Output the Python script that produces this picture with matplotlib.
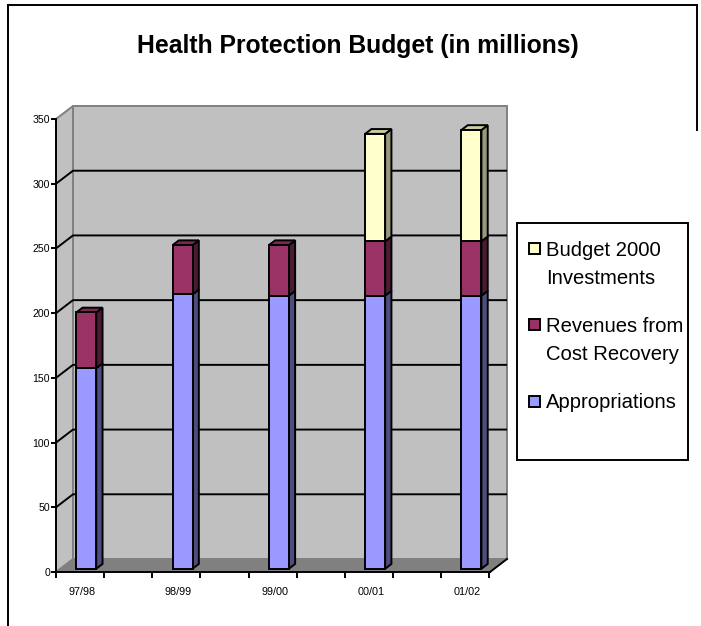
import matplotlib
matplotlib.use('Agg')
import matplotlib.pyplot as plt
from matplotlib.patches import Polygon, Rectangle
from matplotlib.lines import Line2D
from matplotlib.transforms import ScaledTranslation

# ---------------- data ----------------
categories = ['97/98', '98/99', '99/00', '00/01', '01/02']
appropriations = [155, 212, 211, 211, 211]
revenues = [43, 38, 39, 42, 42]
budget2000 = [0, 0, 0, 83, 86]
series_labels = ['Appropriations', 'Revenues from\nCost Recovery', 'Budget 2000\nInvestments']
y_ticks = [0, 50, 100, 150, 200, 250, 300, 350]
title = 'Health Protection Budget (in millions)'

# ---------------- style ----------------
front_cols = ['#9999FF', '#993366', '#FFFFCC']
side_cols = ['#4D4D80', '#4D1A33', '#99997A']
top_cols = ['#7A7ACC', '#7A2952', '#CCCCA3']

plt.rcParams['font.family'] = ['Liberation Sans', 'DejaVu Sans']

W, H = 701, 626
fig = plt.figure(figsize=(W / 100, H / 100), dpi=100)
fig.patch.set_facecolor('white')


def fx(px):
    return px / W


def fy(py):
    return 1 - py / H


# front plane of the 3-D box, in pixels
L, R, T, B = 56, 490, 119, 572
XMIN, XMAX = -0.27, 4.237
YMIN, YMAX = 0, 350
ax = fig.add_axes([fx(L), fy(B), fx(R) - fx(L), fy(T) - fy(B)])
ax.set_xlim(XMIN, XMAX)
ax.set_ylim(YMIN, YMAX)
ax.patch.set_visible(False)

sx = (R - L) / (XMAX - XMIN)   # px per x unit
sy = (B - T) / (YMAX - YMIN)   # px per y unit
DXP, DYP = 17, 13              # depth offset in px
ddx, ddy = DXP / sx, DYP / sy
LW = 1.4


def P(x, y, f):
    return (x + f * ddx, y + f * ddy)


# back wall
ax.add_patch(Polygon([P(XMIN, YMIN, 1), P(XMAX, YMIN, 1), P(XMAX, YMAX, 1), P(XMIN, YMAX, 1)],
                     closed=True, facecolor='#C0C0C0', edgecolor='#808080', lw=LW,
                     clip_on=False, zorder=0))
# side wall
ax.add_patch(Polygon([P(XMIN, YMIN, 0), P(XMIN, YMIN, 1), P(XMIN, YMAX, 1), P(XMIN, YMAX, 0)],
                     closed=True, facecolor='#C0C0C0', edgecolor='#808080', lw=LW,
                     clip_on=False, zorder=0.5))
# floor
ax.add_patch(Polygon([P(XMIN, YMIN, 0), P(XMAX, YMIN, 0), P(XMAX, YMIN, 1), P(XMIN, YMIN, 1)],
                     closed=True, facecolor='#808080', edgecolor='none', lw=0,
                     clip_on=False, zorder=0.6))
ax.add_line(Line2D(*zip(P(XMAX, YMIN, 0), P(XMAX, YMIN, 1)), color='black', lw=LW,
                   clip_on=False, zorder=0.7))

# gridlines on side and back walls
for v in y_ticks[1:-1]:
    pts = [P(XMIN, v, 0), P(XMIN, v, 1), P(XMAX, v, 1)]
    xs, ys = zip(*pts)
    ax.plot(xs, ys, color='black', lw=LW, clip_on=False, zorder=0.8, solid_capstyle='butt')

# bars
f0, f1 = 0.25, 0.62
bw = 20 / sx
off = ScaledTranslation(f0 * DXP / 100, f0 * DYP / 100, fig.dpi_scale_trans)
series = [appropriations, revenues, budget2000]
xpos = list(range(len(categories)))
bottoms = [0] * len(categories)
for s, vals in enumerate(series):
    ax.bar(xpos, vals, bottom=bottoms, width=bw,
           color=front_cols[s], edgecolor='black', lw=LW, zorder=3,
           transform=ax.transData + off)
    for i, x in enumerate(xpos):
        h = vals[i]
        if h <= 0:
            continue
        b = bottoms[i]
        xr = x + bw / 2
        xl = x - bw / 2
        side = [P(xr, b, f0), P(xr, b, f1), P(xr, b + h, f1), P(xr, b + h, f0)]
        ax.add_patch(Polygon(side, closed=True, facecolor=side_cols[s], edgecolor='black',
                             lw=LW, zorder=2.5, clip_on=False, joinstyle='miter'))
        is_top = all(series[k][i] == 0 for k in range(s + 1, len(series)))
        if is_top:
            t = b + h
            top = [P(xl, t, f0), P(xr, t, f0), P(xr, t, f1), P(xl, t, f1)]
            ax.add_patch(Polygon(top, closed=True, facecolor=top_cols[s], edgecolor='black',
                                 lw=LW, zorder=2.5, clip_on=False, joinstyle='miter'))
    bottoms = [bottoms[i] + vals[i] for i in range(len(categories))]

# axes lines / ticks
for sp in ['top', 'right']:
    ax.spines[sp].set_visible(False)
for sp in ['left', 'bottom']:
    ax.spines[sp].set_color('black')
    ax.spines[sp].set_linewidth(LW)
    ax.spines[sp].set_zorder(4)
ax.set_yticks(y_ticks)
ax.set_yticklabels([str(v) for v in y_ticks])
ax.tick_params(axis='y', direction='out', length=3.8, width=LW, pad=0.6,
               labelsize=7.6, colors='black')
ax.set_xticks(xpos)
ax.set_xticklabels(categories)
ax.set_xticks([XMIN + 0.5 * k for k in range(10)], minor=True)
ax.tick_params(axis='x', which='major', length=0, pad=10.5, labelsize=7.8)
ax.tick_params(axis='x', which='minor', direction='out', length=4.5, width=LW)
ax.tick_params(axis='y', which='minor', length=0)

# title
fig.text(fx(358), fy(46), title, ha='center', va='center', fontsize=17.8,
         fontweight='bold', color='black')

# legend (drawn manually)
fig.add_artist(Rectangle((fx(517), fy(460)), fx(688) - fx(517), fy(223) - fy(460),
                         transform=fig.transFigure, facecolor='white', edgecolor='black',
                         lw=LW))
leg_rows = [(2, 249), (1, 325), (0, 401)]
for s, yc in leg_rows:
    sq = 11
    fig.add_artist(Rectangle((fx(529), fy(yc + sq / 2)), sq / W, sq / H,
                             transform=fig.transFigure, facecolor=front_cols[s],
                             edgecolor='black', lw=LW))
    for j, line in enumerate(series_labels[s].split('\n')):
        fig.text(fx(546), fy(yc + 1 + 28 * j), line, ha='left', va='center',
                 fontsize=14.6, color='black')

# outer border
for (x0, y0, x1, y1) in [(8, 5, 8, 626), (8, 5, 697, 5), (697, 5, 697, 130)]:
    fig.add_artist(Line2D([fx(x0), fx(x1)], [fy(y0), fy(y1)], transform=fig.transFigure,
                          color='black', lw=LW))

fig.savefig('out.png', dpi=100)
